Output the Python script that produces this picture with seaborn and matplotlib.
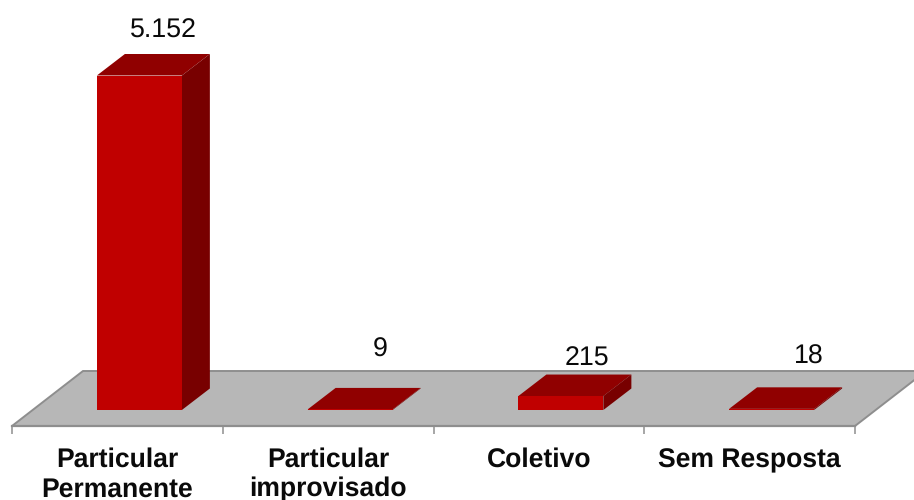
import matplotlib
matplotlib.use("Agg")
import matplotlib.pyplot as plt
from matplotlib.patches import Polygon
import seaborn as sns

categories = ["Particular\nPermanente", "Particular\nimprovisado", "Coletivo", "Sem Resposta"]
values = [5152, 9, 215, 18]
value_labels = ["5.152", "9", "215", "18"]

# Pixel nudges of each value label from the top centre of its bar
label_nudges = [(24.5, 38), (30, 53), (26.5, 30), (37, 45)]

FRONT = "#C00000"
TOP = "#900000"
SIDE = "#780000"
FLOOR = "#B7B7B7"
EDGE = "#8E8E8E"

W, H = 914, 500
DEPTH_X, DEPTH_Y = 28, 21.5
FLOOR_DEPTH_X, FLOOR_Y_FRONT, FLOOR_Y_BACK = 71, 426, 371
FLOOR_LEFT, FLOOR_RIGHT = 12, 855
BAR_SHIFT, BAR_BASE, PX_PER_UNIT = 22, 410, 334.5 / 5152

sns.set_theme(style="white")
plt.rcParams["font.family"] = ["Liberation Sans", "DejaVu Sans"]
plt.rcParams["text.hinting"] = "no_hinting"

fig = plt.figure(figsize=(W / 100, H / 100), dpi=100, facecolor="white")


def frame(left, right, bottom, top):
    return [left / W, (H - bottom) / H, (right - left) / W, (bottom - top) / H]


# Floor plane carrying the category axis
floor = fig.add_axes(frame(FLOOR_LEFT, FLOOR_RIGHT, FLOOR_Y_FRONT, FLOOR_Y_BACK), zorder=0)
floor.set_xlim(-0.5, 3.5)
floor.set_ylim(0, 1)
floor.patch.set_visible(False)
unit_px = (FLOOR_RIGHT - FLOOR_LEFT) / 4
skew = FLOOR_DEPTH_X / unit_px
floor.add_patch(Polygon([(-0.5, 0), (3.5, 0), (3.5 + skew, 1), (-0.5 + skew, 1)],
                        closed=True, facecolor=FLOOR, edgecolor=EDGE,
                        linewidth=1.4, clip_on=False))
for name, spine in floor.spines.items():
    spine.set_visible(name == "bottom")
floor.spines["bottom"].set_color(EDGE)
floor.spines["bottom"].set_linewidth(1.6)
floor.set_yticks([])
floor.set_xticks([-0.5, 0.5, 1.5, 2.5, 3.5])
floor.set_xticklabels([])
floor.tick_params(axis="x", which="major", bottom=True, length=5.8, width=1.1, color=EDGE)
floor.set_xticks(range(4), minor=True)
floor.set_xticklabels(categories, minor=True, fontsize=19.1, fontweight="bold",
                      color="#0A0A0A", linespacing=1.22)
floor.tick_params(axis="x", which="minor", bottom=False, length=0, pad=15.5)

# Bars, with the front faces drawn by seaborn
bars = fig.add_axes(frame(FLOOR_LEFT + BAR_SHIFT, FLOOR_RIGHT + BAR_SHIFT, BAR_BASE, 0), zorder=1)
sns.barplot(x=list(range(4)), y=values, color=FRONT, saturation=1, width=85 / unit_px,
            ax=bars, linewidth=0, zorder=3)
bars.set_xlim(-0.5, 3.5)
bars.set_ylim(0, BAR_BASE / PX_PER_UNIT)
bars.patch.set_visible(False)
bars.axis("off")

# Top and side faces extruded from each front face
dx = DEPTH_X / unit_px
dy = DEPTH_Y / PX_PER_UNIT
for patch in list(bars.patches):
    x0, x1 = patch.get_x(), patch.get_x() + patch.get_width()
    h = patch.get_height()
    bars.add_patch(Polygon([(x0, h), (x1, h), (x1 + dx, h + dy), (x0 + dx, h + dy)],
                           closed=True, facecolor=TOP, edgecolor="none", zorder=2, clip_on=False))
    bars.add_patch(Polygon([(x1, 0), (x1 + dx, dy), (x1 + dx, h + dy), (x1, h)],
                           closed=True, facecolor=SIDE, edgecolor="none", zorder=2, clip_on=False))

# Value labels above the bars
for i, (label, nudge) in enumerate(zip(value_labels, label_nudges)):
    bars.annotate(label, xy=(i, values[i]), xytext=(nudge[0] * 0.72, nudge[1] * 0.72),
                  textcoords="offset points", ha="center", va="baseline",
                  fontsize=19.3, color="#0A0A0A", annotation_clip=False)

fig.savefig("out.png", dpi=100)
